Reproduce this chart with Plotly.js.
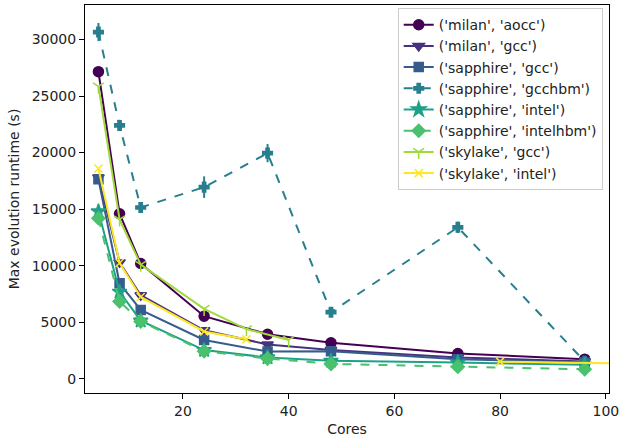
<!DOCTYPE html>
<html>
<head>
<meta charset="utf-8">
<script src="https://cdn.plot.ly/plotly-3.0.1.min.js"></script>
<style>
  html, body { margin: 0; padding: 0; background: #fff; }
  #chart { width: 621px; height: 440px; }
</style>
</head>
<body>
<div id="chart"></div>
<script>
// Max evolution runtime per machine / compiler pair, by core count
const milanCores    = [4, 8, 12, 24, 36, 48, 72, 96];
const sapphireCores = [4, 8, 12, 24, 36, 48, 72, 96];
const skylakeGccCores   = [4, 8, 12, 24, 32, 40];
const skylakeIntelCores = [4, 8, 12, 24, 32, 40, 80, 120];

const milanAocc        = [27150, 14600, 10200, 5550, 3950, 3200, 2250, 1750];
const milanGcc         = [17800, 10300, 7400, 4300, 3050, 2550, 1900, 1550];
const sapphireGcc      = [17650, 8450, 6100, 3450, 2420, 2450, 1750, 1450];
const sapphireGcchbm   = [30650, 22400, 15150, 16950, 19950, 5900, 13400, 1550];
const sapphireGcchbmErr = [800, 400, 300, 950, 800, 300, 500, 200];
const sapphireIntel    = [14800, 7700, 5150, 2550, 1900, 1600, 1450, 1250];
const sapphireIntelhbm = [14200, 6850, 5080, 2450, 1800, 1330, 1090, 860];
const skylakeGcc       = [25850, 14100, 10100, 6200, 4400, 3450];
const skylakeIntel     = [18600, 10250, 7250, 4200, 3500, null, 1530, 1260];

const yTicks = [0, 5000, 10000, 15000, 20000, 25000, 30000];
const xTicks = [20, 40, 60, 80, 100];

const seriesNames = [
  "('milan', 'aocc')", "('milan', 'gcc')", "('sapphire', 'gcc')",
  "('sapphire', 'gcchbm')", "('sapphire', 'intel')", "('sapphire', 'intelhbm')",
  "('skylake', 'gcc')", "('skylake', 'intel')"
];

const viridis = ['#440154', '#46327e', '#365c8d', '#277f8e',
                 '#1fa187', '#4ac16d', '#a0da39', '#fde725'];

function series(i, x, y, symbol, size, dash, err) {
  const c = viridis[i];
  const t = {
    type: 'scatter', mode: 'lines+markers', name: seriesNames[i],
    x: x, y: y, connectgaps: false,
    line: { color: c, width: 2, dash: dash || 'solid' },
    marker: { symbol: symbol, size: size, color: c, line: { color: c, width: 1.5 } },
    cliponaxis: true
  };
  if (err) {
    t.error_y = { type: 'data', array: err, visible: true, color: c, thickness: 2, width: 0 };
  }
  return t;
}

const data = [
  series(0, milanCores, milanAocc, 'circle', 10),
  series(1, milanCores, milanGcc, 'triangle-down', 10),
  series(2, sapphireCores, sapphireGcc, 'square', 9),
  series(3, sapphireCores, sapphireGcchbm, 'cross', 8, 'dash', sapphireGcchbmErr),
  series(4, sapphireCores, sapphireIntel, 'star', 11),
  series(5, sapphireCores, sapphireIntelhbm, 'diamond', 10, 'dash'),
  series(6, skylakeGccCores, skylakeGcc, 'y-down', 9),
  series(7, skylakeIntelCores, skylakeIntel, 'x-thin', 8)
];

const axisFont = { family: 'DejaVu Sans', size: 14, color: '#222' };

const layout = {
  width: 621, height: 440,
  margin: { l: 85, r: 12, t: 5, b: 47 },
  paper_bgcolor: '#fff', plot_bgcolor: '#fff',
  font: axisFont,
  showlegend: true,
  legend: {
    x: 0.988, xanchor: 'right', y: 0.992, yanchor: 'top',
    bgcolor: 'rgba(255,255,255,0.8)', bordercolor: '#cccccc', borderwidth: 1,
    font: { family: 'DejaVu Sans', size: 14, color: '#222' },
    tracegroupgap: 0, itemwidth: 30
  },
  xaxis: {
    range: [1.46, 100.6], tickvals: xTicks,
    showgrid: false, zeroline: false,
    showline: true, mirror: true, linecolor: '#000', linewidth: 1,
    ticks: 'outside', ticklen: 5, tickcolor: '#000',
    tickfont: axisFont,
    title: { text: 'Cores', font: axisFont, standoff: 6 }
  },
  yaxis: {
    range: [-1240, 33040], tickvals: yTicks, tickformat: 'd',
    showgrid: false, zeroline: false,
    showline: true, mirror: true, linecolor: '#000', linewidth: 1,
    ticks: 'outside', ticklen: 5, tickcolor: '#000',
    tickfont: axisFont,
    title: { text: 'Max evolution runtime (s)', font: axisFont, standoff: 8 }
  }
};

Plotly.newPlot('chart', data, layout, { displayModeBar: false, staticPlot: true });
</script>
</body>
</html>
